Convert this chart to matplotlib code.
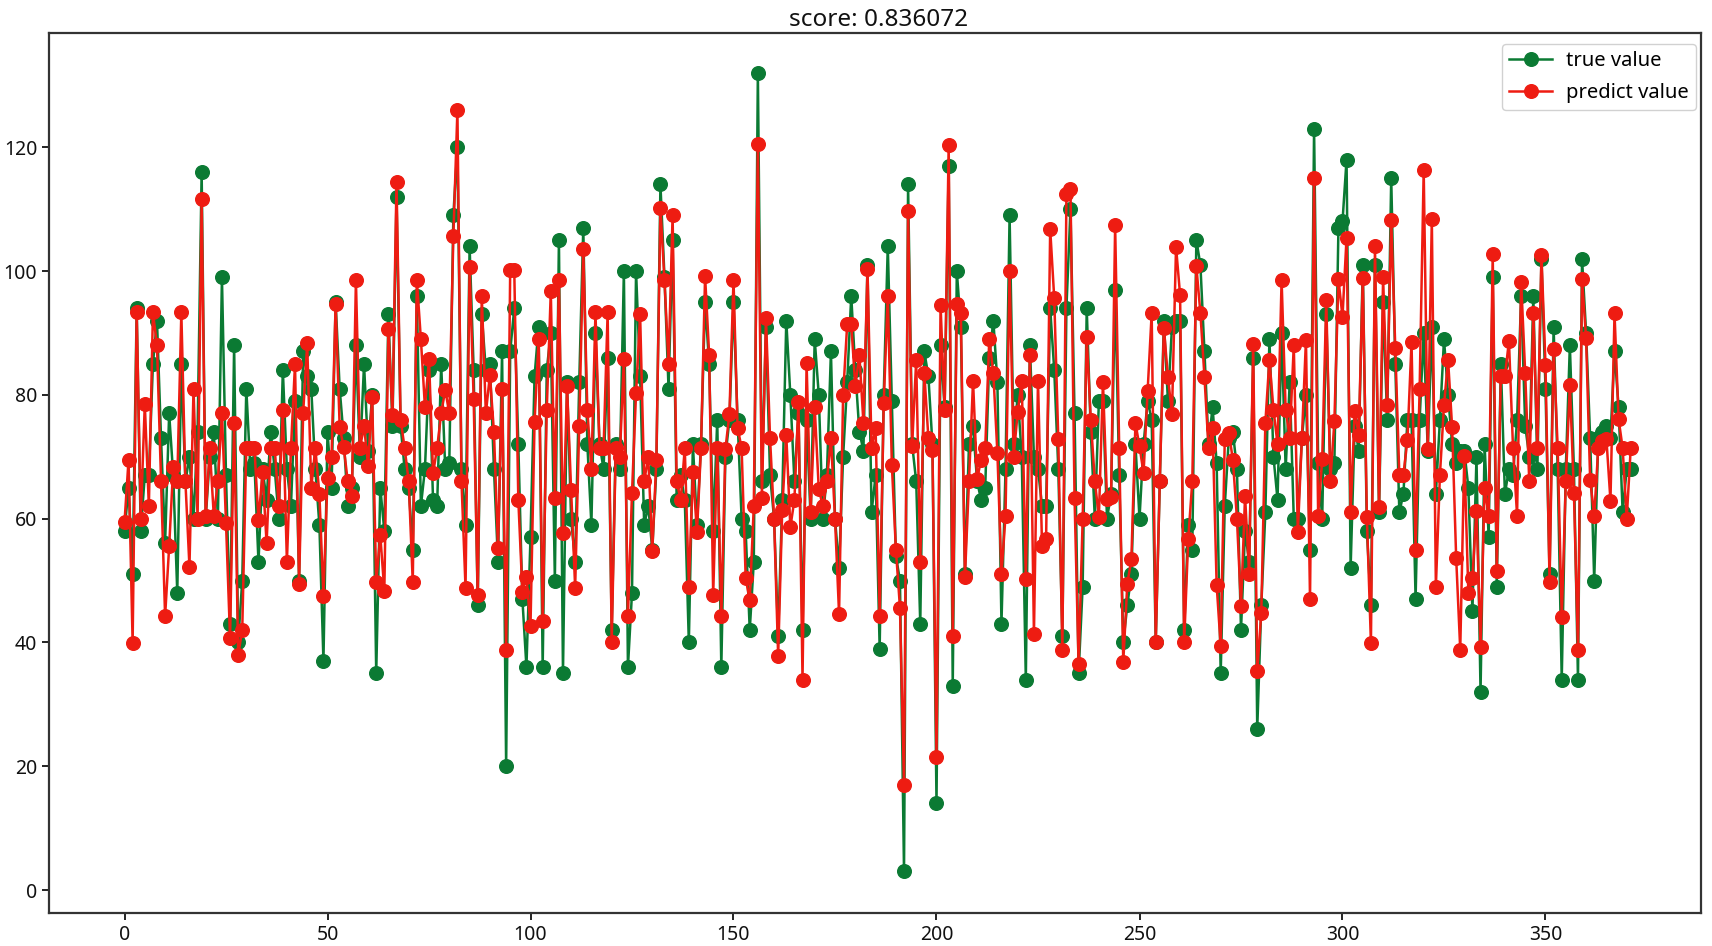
import numpy as np
import matplotlib
matplotlib.use("Agg")
import matplotlib.pyplot as plt

plt.rcParams['font.family'] = ['Noto Sans', 'DejaVu Sans']

true_value = [
58,65,51,94,58,67,67,85,92,73,56,77,67,48,85,66,70,60,74,116,
60,70,74,60,99,67,43,88,40,50,81,68,69,53,68,63,74,68,60,84,
68,62,79,50,87,83,81,68,59,37,74,65,95,81,73,62,65,88,70,85,
71,80,35,65,58,93,75,112,75,68,65,55,96,62,68,84,63,62,85,68,
69,109,120,68,59,104,84,46,93,84,85,68,53,87,20,87,94,72,47,36,
57,83,91,36,84,90,50,105,35,82,60,53,82,107,72,59,90,72,68,86,
42,72,68,100,36,48,100,83,59,62,55,68,114,99,81,105,63,67,63,40,
72,59,72,95,85,58,76,36,70,76,95,76,60,58,42,53,132,66,91,67,
60,41,63,92,80,66,77,42,76,60,89,80,60,67,87,60,52,70,82,96,
84,74,71,101,61,67,39,80,104,79,54,50,3,114,72,66,43,87,83,
72,14,88,78,117,33,100,91,51,72,75,66,63,65,86,92,82,43,68,109,72,
80,70,34,88,70,68,62,62,94,84,68,41,94,110,77,35,49,94,74,60,
79,79,60,64,97,67,40,46,51,72,60,72,79,76,40,66,92,79,91,92,92,
42,59,55,105,101,87,72,78,69,35,62,73,74,68,42,58,53,86,26,46,
61,89,70,63,90,68,82,60,60,73,80,55,123,69,60,93,68,69,107,108,
118,52,75,71,101,58,46,101,61,95,76,115,85,61,64,76,76,47,76,90,
71,91,64,76,89,80,72,69,71,71,65,45,70,32,72,57,99,49,85,64,
68,67,76,96,75,70,96,68,102,81,51,91,68,34,68,88,68,34,102,90,
73,50,73,74,75,73,87,78,61,68,68,
]

predict_value = [
59.4,69.5,39.9,93.3,60,78.5,62,93.3,88,66,44.2,55.5,68.4,66,93.3,66,52.2,81,60,111.6,
60.4,71.4,60.4,66,77,59.3,40.7,75.5,38,42,71.4,71.4,71.4,59.7,67.5,56,71.4,71.4,62,77.6,
53,71.4,85,49.5,77,88.3,65,71.4,64,47.5,66.5,70,94.6,74.8,71.5,66,63.6,98.6,71.4,75,
68.5,79.7,49.7,57.3,48.3,90.7,76.7,114.4,76,71.4,66,49.7,98.6,89,78,85.8,67.3,71.4,77,80.8,
77,105.6,126,66,48.8,100.7,79.3,47.6,96,77,83.2,74,55.2,81,38.8,100.2,100.2,63,48.2,50.6,
42.7,75.6,89,43.4,77.5,96.7,63.3,98.6,57.7,81.4,64.7,48.8,75,103.5,77.5,68,93.3,71.4,71.4,93.3,
40.1,71.4,70,85.8,44.2,64.2,80.3,93,66,70,54.8,69.5,110.2,98.5,85,109,66,63,71.4,49,
67.5,57.8,71.4,99.2,86.5,47.7,71.4,44.2,71.2,76.9,98.6,74.7,71.4,50.4,46.8,62,120.5,63.3,92.4,73,
59.9,37.8,61.4,73.5,58.6,63,78.8,34,85.2,61,78,64.8,62,66,73,60,44.6,80,91.4,91.4,
81.4,86.5,75.5,100.3,71.4,74.7,44.2,78.6,96,68.7,55,45.6,17,109.7,71.8,85.6,53,83.5,73,71.1,
21.5,94.5,77.6,120.4,41,94.6,93.2,50.5,66,82.3,66.4,69.5,71.4,89,83.5,70.6,51,60.4,100,70,
77.2,82.3,50.3,86.4,41.3,82.3,55.5,56.7,106.8,95.6,72.8,38.7,112.4,113.2,63.3,36.5,59.9,89.3,76,66,
60.3,82.1,63.2,63.5,107.4,71.4,36.8,49.5,53.4,75.4,71.7,67.3,80.6,93.2,40,66,90.8,82.9,76.9,103.9,
96.1,40,56.7,66,100.8,93.2,82.9,71.4,74.7,49.3,39.4,72.8,73.9,69.5,60,45.8,63.7,51,88.2,35.3,
44.8,75.5,85.7,77.6,72,98.6,77.6,73,88,57.8,73,88.9,47,115,60.5,69.6,95.3,66,75.7,98.7,
92.6,105.4,61,77.4,73.5,98.9,60.3,39.9,104,61.8,99,78.3,108.2,87.5,67,67.1,72.7,88.5,55,81,
116.3,71.2,108.4,49,67.1,78.3,85.7,74.8,53.6,38.8,70.1,48,50.4,61.3,39.3,65,60.5,102.7,51.6,83,
83,88.7,71.4,60.5,98.3,83.5,66,93.2,71.4,102.6,84.8,49.8,87.4,71.4,44.1,66,81.6,64.2,38.7,98.7,
89.1,66.2,60.5,71.4,72.6,72.9,62.9,93.2,76.1,71.4,60,71.4,
]

title_text = "score: 0.836072"
legend_labels = ["true value", "predict value"]

GREEN = "#0b7a33"
RED = "#ee1c12"

fig = plt.figure(figsize=(17.12, 9.46), dpi=100)
ax = fig.add_axes([49/1712, 1-913/946, (1701-49)/1712, (913-33)/946])

ax.plot(np.arange(len(true_value)), true_value, '-o', color=GREEN, lw=1.8, ms=9.8, label=legend_labels[0])
ax.plot(np.arange(len(predict_value)), predict_value, '-o', color=RED, lw=1.8, ms=9.8, label=legend_labels[1])

x0, xs = 124.5, 4.06
ax.set_xlim((49-x0)/xs, (1701-x0)/xs)
ax.set_ylim((890-913)/6.19, (890-33)/6.19)
ax.set_xticks(range(0, 351, 50))
ax.set_yticks(range(0, 121, 20))
ax.tick_params(labelsize=14, length=5, width=1.3, colors='#111111')
for s in ax.spines.values():
    s.set_linewidth(1.6)
    s.set_color('#333333')

ax.set_title(title_text, fontsize=17.5, pad=5, color='#111111', x=0.502)
ax.legend(loc='upper right', bbox_to_anchor=(0.9967, 0.988), fontsize=14.5, borderaxespad=0,
          handlelength=2.1, handletextpad=0.7, framealpha=0.9, borderpad=0.35, labelspacing=0.6)

fig.savefig("out.png", dpi=100)
print(len(true_value), len(predict_value))
